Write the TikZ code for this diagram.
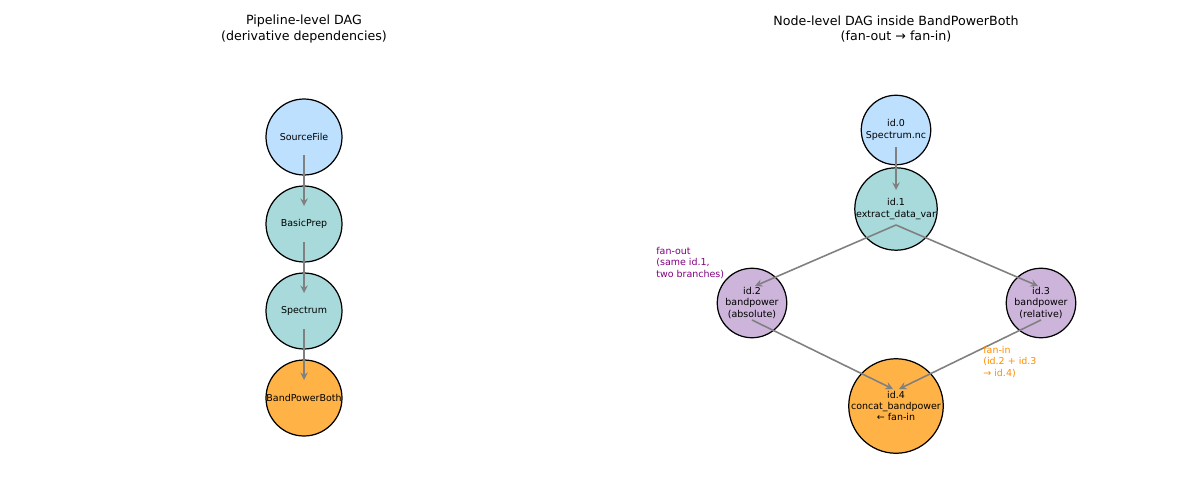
\documentclass[tikz,border=0pt]{standalone}
\usepackage{fontspec}
\setmainfont{DejaVu Sans}
\usetikzlibrary{positioning,arrows}
\definecolor{srcblue}{RGB}{189,224,254}
\definecolor{prepteal}{RGB}{168,218,220}
\definecolor{bandlilac}{RGB}{205,180,219}
\definecolor{outorange}{RGB}{255,179,71}
\definecolor{fanout}{RGB}{128,0,128}
\definecolor{fanin}{RGB}{255,140,0}
\begin{document}
\begin{tikzpicture}[x=0.02cm,y=-0.02cm]
		\tikzstyle{every node}+=[inner sep=0pt,align=center,font=\fontsize{5.4}{6.4}\selectfont]
		\tikzstyle{big}=[circle,draw=black,line width=0.7pt,minimum size=1.52cm]
		\tikzstyle{small}=[circle,draw=black,line width=0.7pt,minimum size=1.39cm]
		\tikzstyle{edge}=[draw=gray,line width=0.9pt,-stealth]
		\tikzstyle{title}=[font=\fontsize{7.2}{8.8}\selectfont]
		\useasboundingbox (0,0) rectangle (1200,500);
		% left panel
		\node [title] (tl) at (304,29) {Pipeline-level DAG\\(derivative dependencies)};
		\node [big,fill=srcblue] (src) at (304,137) {SourceFile};
		\node [big,fill=prepteal] (prep) at (304,224) {BasicPrep};
		\node [big,fill=prepteal] (spec) at (304,311) {Spectrum};
		\node [big,fill=outorange] (bpb) at (304,398) {BandPowerBoth};
		\draw [edge] ([yshift=-0.36cm]src.center) -- ([yshift=0.36cm]prep.center);
		\draw [edge] ([yshift=-0.36cm]prep.center) -- ([yshift=0.36cm]spec.center);
		\draw [edge] ([yshift=-0.36cm]spec.center) -- ([yshift=0.36cm]bpb.center);
		% right panel
		\node [title] (tr) at (896,29) {Node-level DAG inside BandPowerBoth\\(fan-out → fan-in)};
		\node [small,fill=srcblue] (n0) at (896,130) {id.0\\Spectrum.nc};
		\node [small,fill=prepteal] (n1) at (896,209) {id.1\\extract\_data\_var};
		\node [small,fill=bandlilac] (n2) at (752,303) {id.2\\bandpower\\(absolute)};
		\node [small,fill=bandlilac] (n3) at (1041,303) {id.3\\bandpower\\(relative)};
		\node [small,fill=outorange] (n4) at (896,406) {id.4\\concat\_bandpower\\← fan-in};
		\draw [edge] ([yshift=-0.34cm]n0.center) -- ([yshift=0.38cm]n1.center);
		\draw [edge] ([yshift=-0.32cm]n1.center) -- ([xshift=0.06cm,yshift=0.34cm]n2.center);
		\draw [edge] ([yshift=-0.32cm]n1.center) -- ([xshift=-0.06cm,yshift=0.34cm]n3.center);
		\draw [edge] ([yshift=-0.34cm]n2.center) -- ([xshift=-0.06cm,yshift=0.34cm]n4.center);
		\draw [edge] ([yshift=-0.34cm]n3.center) -- ([xshift=0.06cm,yshift=0.34cm]n4.center);
		\node [anchor=west,align=left,text=fanout] (fo) at (656,263) {fan-out\\(same id.1,\\two branches)};
		\node [anchor=west,align=left,text=fanin] (fi) at (983,362) {fan-in\\(id.2 + id.3\\→ id.4)};
\end{tikzpicture}
\end{document}
